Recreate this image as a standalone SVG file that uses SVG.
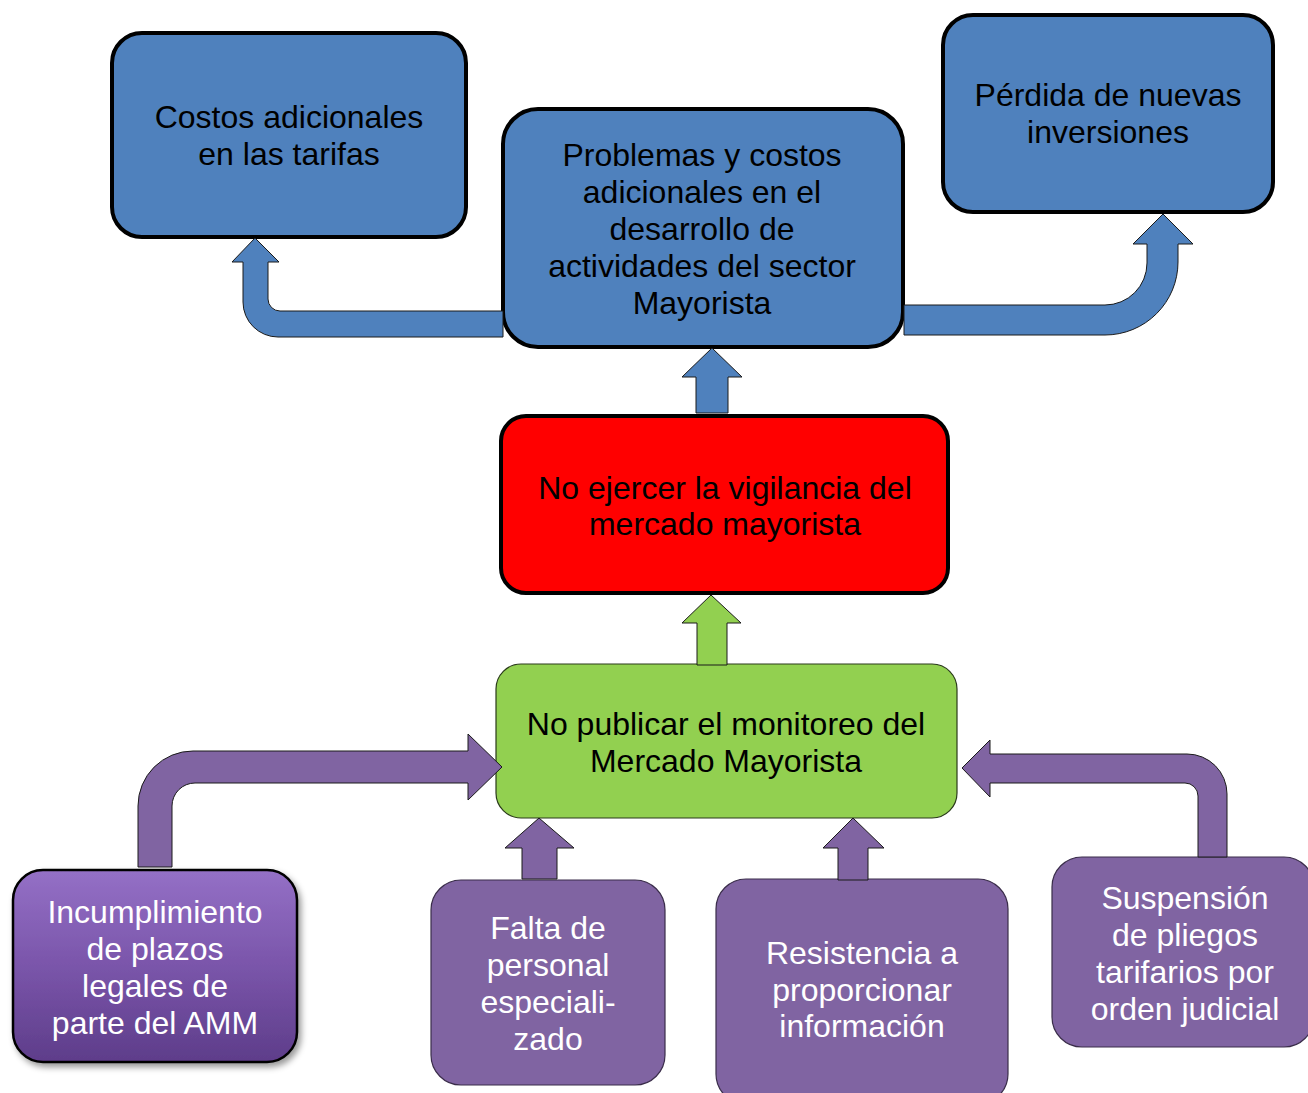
<svg xmlns="http://www.w3.org/2000/svg" width="1308" height="1093" viewBox="0 0 1308 1093">
<defs>
<linearGradient id="gPurple" x1="0" y1="0" x2="0" y2="1">
<stop offset="0" stop-color="#9470C6"/>
<stop offset="0.5" stop-color="#7A55AA"/>
<stop offset="1" stop-color="#5E3D8A"/>
</linearGradient>
<filter id="shadow" x="-10%" y="-10%" width="125%" height="125%">
<feDropShadow dx="3" dy="4" stdDeviation="3" flood-color="#000" flood-opacity="0.4"/>
</filter>
</defs>
<style>
text{font-family:"Liberation Sans",Arial,sans-serif;font-size:32px;text-anchor:middle}
.dark{fill:#000}
.light{fill:#fff}
.blue{fill:#4F81BD;stroke:#000;stroke-width:4}
.red{fill:#FF0000;stroke:#000;stroke-width:4}
.green{fill:#92D050;stroke:#2a3a1a;stroke-width:1.2}
.purple{fill:#8064A2;stroke:#3a2d4a;stroke-width:1.2}
.ablue{fill:#4F81BD;stroke:#1a1a1a;stroke-width:1}
.agreen{fill:#92D050;stroke:#1a1a1a;stroke-width:1}
.apurple{fill:#8064A2;stroke:#1a1a1a;stroke-width:1}
</style>
<g id="node-costos">
<rect class="blue" x="112" y="33" width="354" height="204" rx="30"/>
<text class="dark" x="289" y="128">Costos adicionales</text>
<text class="dark" x="289" y="165">en las tarifas</text>
</g>
<g id="node-problemas">
<rect class="blue" x="503" y="109" width="400" height="238" rx="35"/>
<text class="dark" x="702" y="166">Problemas y costos</text>
<text class="dark" x="702" y="203">adicionales en el</text>
<text class="dark" x="702" y="240">desarrollo de</text>
<text class="dark" x="702" y="277">actividades del sector</text>
<text class="dark" x="702" y="314">Mayorista</text>
</g>
<g id="node-perdida">
<rect class="blue" x="943" y="15" width="330" height="197" rx="30"/>
<text class="dark" x="1108" y="106">Pérdida de nuevas</text>
<text class="dark" x="1108" y="143">inversiones</text>
</g>
<g id="node-vigilancia">
<rect class="red" x="501" y="416" width="447" height="177" rx="25"/>
<text class="dark" x="725" y="499">No ejercer la vigilancia del</text>
<text class="dark" x="725" y="535">mercado mayorista</text>
</g>
<g id="node-monitoreo">
<rect class="green" x="496" y="664" width="461" height="154" rx="25"/>
<text class="dark" x="726" y="735">No publicar el monitoreo del</text>
<text class="dark" x="726" y="772">Mercado Mayorista</text>
</g>
<g id="node-incumplimiento">
<rect x="13" y="870" width="284" height="192" rx="30" fill="url(#gPurple)" stroke="#000" stroke-width="2.5" filter="url(#shadow)"/>
<text class="light" x="155" y="923">Incumplimiento</text>
<text class="light" x="155" y="960">de plazos</text>
<text class="light" x="155" y="997">legales de</text>
<text class="light" x="155" y="1034">parte del AMM</text>
</g>
<g id="node-falta">
<rect class="purple" x="431" y="880" width="234" height="205" rx="30"/>
<text class="light" x="548" y="939">Falta de</text>
<text class="light" x="548" y="976">personal</text>
<text class="light" x="548" y="1013">especiali-</text>
<text class="light" x="548" y="1050">zado</text>
</g>
<g id="node-resistencia">
<rect class="purple" x="716" y="879" width="292" height="225" rx="30"/>
<text class="light" x="862" y="964">Resistencia a</text>
<text class="light" x="862" y="1001">proporcionar</text>
<text class="light" x="862" y="1037">información</text>
</g>
<g id="node-suspension">
<rect class="purple" x="1052" y="857" width="262" height="190" rx="30"/>
<text class="light" x="1185" y="909">Suspensión</text>
<text class="light" x="1185" y="946">de pliegos</text>
<text class="light" x="1185" y="983">tarifarios por</text>
<text class="light" x="1185" y="1020">orden judicial</text>
</g>
<g id="connectors">
<path class="ablue" d="M503,337 L278,337 A35,35 0 0 1 243,302 L243,262 L232,262 L255,238 L279,262 L268,262 L268,299 A12,12 0 0 0 280,311 L503,311 Z"/>
<path class="ablue" d="M904,305 L1105,305 A42,42 0 0 0 1147,263 L1147,244 L1133,244 L1163,214 L1193,244 L1178,244 L1178,262 A73,73 0 0 1 1105,335 L904,335 Z"/>
<path class="ablue" d="M696,413 L696,377 L682,377 L712,348 L742,377 L728,377 L728,413 Z"/>
<path class="agreen" d="M697,665 L697,623 L682,623 L711,595 L741,623 L727,623 L727,665 Z"/>
<path class="apurple" d="M138,867 L138,806 A55,55 0 0 1 193,751 L468,751 L468,734 L502,767 L468,800 L468,783 L195,783 A23,23 0 0 0 172,806 L172,867 Z"/>
<path class="apurple" d="M1227,857 L1227,794 A40,40 0 0 0 1187,754 L990,754 L990,740 L962,768 L990,797 L990,783 L1185,783 A13,13 0 0 1 1198,796 L1198,857 Z"/>
<path class="apurple" d="M522,879 L522,848 L505,848 L539,818 L574,848 L557,848 L557,879 Z"/>
<path class="apurple" d="M838,880 L838,848 L823,848 L853,818 L884,848 L868,848 L868,880 Z"/>
</g>
</svg>
